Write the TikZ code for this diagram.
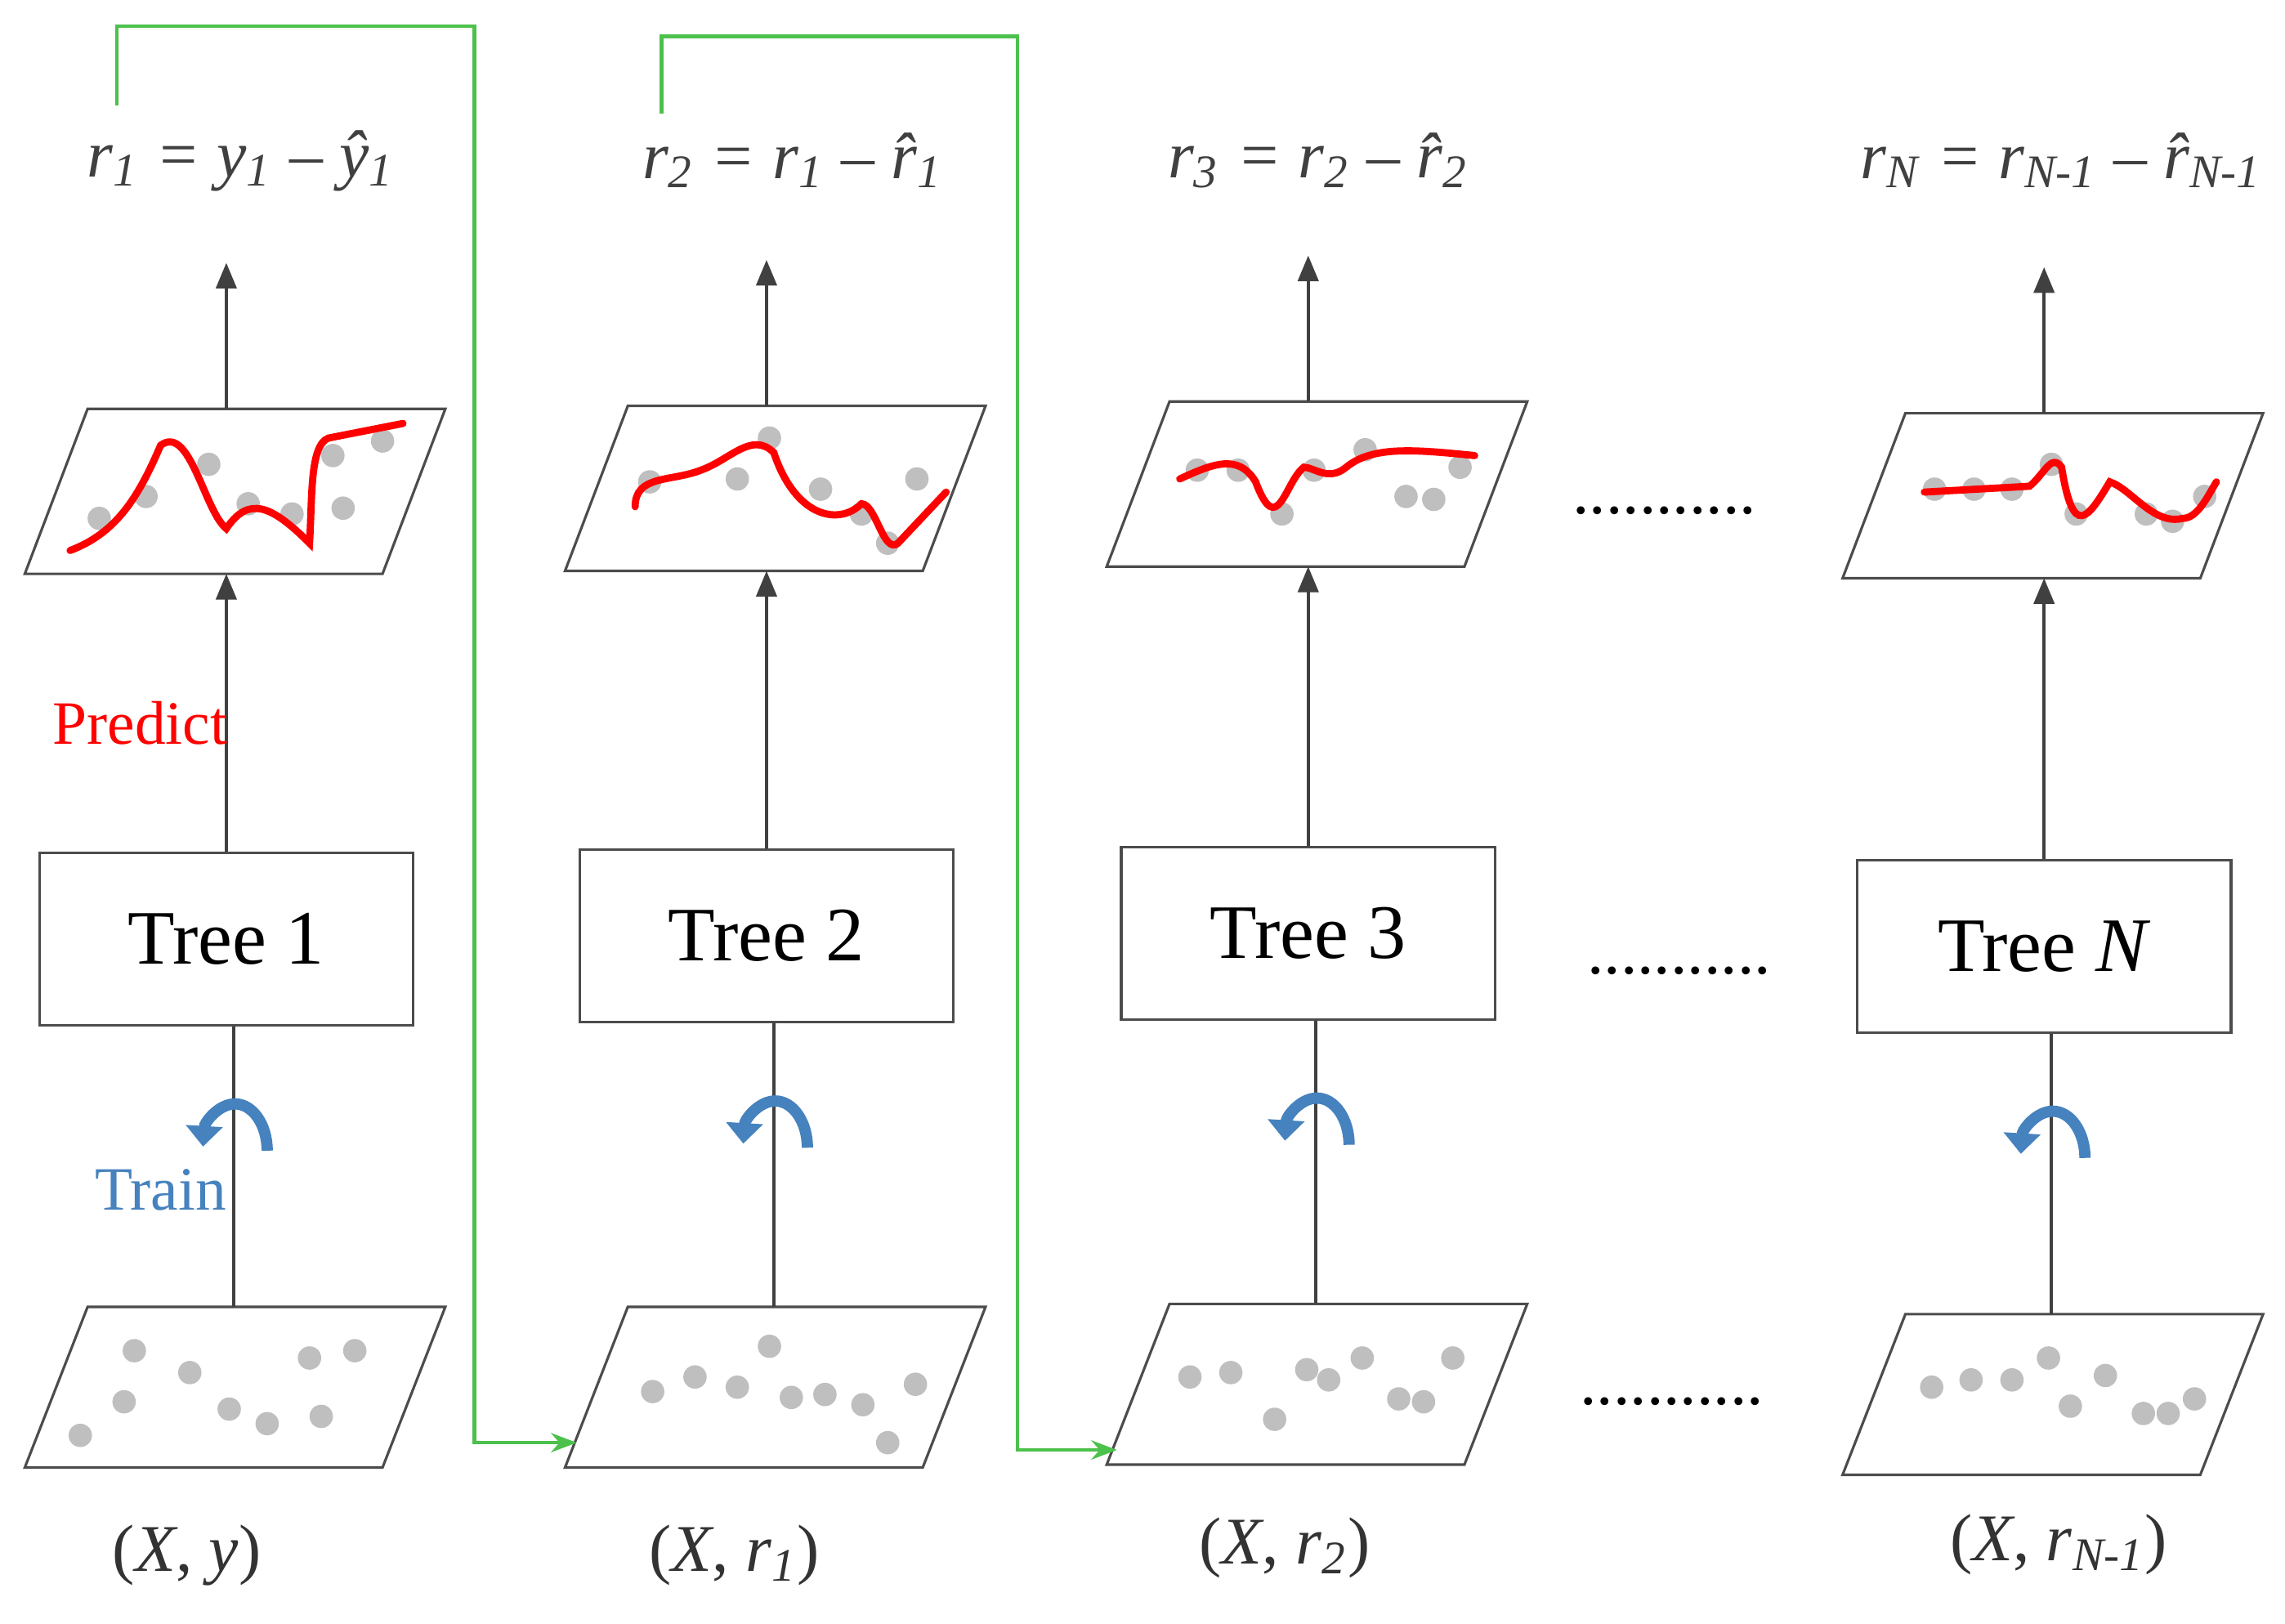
\documentclass[tikz,border=0pt]{standalone}
\usepackage{fontspec}
\setmainfont{Liberation Serif}
\usetikzlibrary{arrows.meta}
\definecolor{steel}{RGB}{70,130,190}
\begin{document}
\begin{tikzpicture}[x=0.01cm,y=-0.01cm,
  para/.style={draw=black!70,line width=0.5pt},
  treebox/.style={draw=black!70,line width=0.5pt,minimum width=2.56cm,minimum height=1.18cm,font=\fontsize{15}{17}\selectfont},
  flow/.style={draw=black!75,line width=0.6pt},
  up/.style={flow,-{Triangle[length=5pt,width=4pt]}},
  dot/.style={fill=black!25,draw=none},
  fit/.style={red,line width=1.4pt,line cap=round},
  res/.style={font=\fontsize{13}{15}\selectfont\itshape,black!75},
  data/.style={font=\fontsize{13}{15}\selectfont,black!80},
  grn/.style={draw=green!65!black!70,line width=0.7pt},
  rot/.style={draw=steel,line width=2.2pt,-{Triangle[length=4pt,width=7pt]}},
  dots/.style={font=\fontsize{13}{13}\selectfont}]
\useasboundingbox (0,0) rectangle (1565,1112);
\foreach \c/\cx/\ty/\py/\by in {1/155/643/337/950, 2/525/641/335/950, 3/896/639/332/948, 4/1400/648/340/955}{
  \draw[para] (\cx-95,\py-57) -- (\cx+150,\py-57) -- (\cx+107,\py+56) -- (\cx-138,\py+56) -- cycle;
  \draw[para] (\cx-95,\by-55) -- (\cx+150,\by-55) -- (\cx+107,\by+55) -- (\cx-138,\by+55) -- cycle;
  \node[treebox] (t\c) at (\cx,\ty) {Tree \ifnum\c=4 \textit{N}\else\c\fi};
  \coordinate (pb\c) at (\cx,\py+56);
  \coordinate (pt\c) at (\cx,\py-57);
  \coordinate (top\c) at (\cx,\py-157);
  \coordinate (bt\c) at (\cx+5,\by-55);
  \draw[up] (t\c.north -| pb\c) -- (pb\c);
  \draw[up] (pt\c) -- (top\c);
  \draw[flow] (bt\c) -- (bt\c |- t\c.south);
  \draw[rot] (\cx+28,\ty+145) arc[start angle=0,end angle=-175,x radius=22,y radius=32];
}
\foreach \x/\y in {55/983,85/960,92/925,130/940,157/965,183/975,212/930,220/970,243/925}{\fill[dot] (\x,\y) circle (8);}
\foreach \x/\y in {447/953,476/943,505/950,527/922,542/957,565/955,591/962,608/988,627/948}{\fill[dot] (\x,\y) circle (8);}
\foreach \x/\y in {815/943,843/940,873/972,895/938,910/945,933/930,958/958,975/960,995/930}{\fill[dot] (\x,\y) circle (8);}
\foreach \x/\y in {1323/950,1350/945,1378/945,1403/930,1418/963,1442/942,1468/968,1485/968,1503/958}{\fill[dot] (\x,\y) circle (8);}
\foreach \x/\y in {68/355,100/340,143/318,170/345,200/352,235/348,228/312,262/302}{\fill[dot] (\x,\y) circle (8);}
\foreach \x/\y in {445/330,505/328,527/300,562/335,590/352,628/328,608/372}{\fill[dot] (\x,\y) circle (8);}
\foreach \x/\y in {820/322,848/322,878/352,900/322,935/308,963/340,982/342,1000/320}{\fill[dot] (\x,\y) circle (8);}
\foreach \x/\y in {1325/335,1352/335,1378/335,1405/318,1422/352,1470/352,1488/357,1510/340}{\fill[dot] (\x,\y) circle (8);}
\draw[fit] (48,377) .. controls (80,365) and (95,340) .. (110,305) .. controls (130,290) and (140,350) .. (155,362) .. controls (170,340) and (185,345) .. (212,372) .. controls (214,340) and (212,305) .. (225,300) -- (276,290);
\draw[fit] (435,347) .. controls (435,325) and (460,330) .. (480,322) .. controls (500,315) and (515,295) .. (530,310) .. controls (545,355) and (575,360) .. (590,345) .. controls (600,345) and (605,380) .. (615,372) -- (648,337);
\draw[fit] (808,328) .. controls (830,318) and (848,310) .. (860,330) .. controls (875,370) and (880,330) .. (893,320) .. controls (900,320) and (910,330) .. (922,320) .. controls (940,305) and (970,308) .. (1010,312);
\draw[fit] (1318,337) -- (1390,333) .. controls (1400,325) and (1405,310) .. (1412,320) .. controls (1420,370) and (1430,355) .. (1445,330) .. controls (1460,335) and (1475,360) .. (1495,355) .. controls (1505,355) and (1512,340) .. (1518,330);
\node[res] (f1) at (165,110) {r\textsubscript{1} = y\textsubscript{1} -- \^{y}\textsubscript{1}};
\node[res] (f2) at (543,110) {r\textsubscript{2} = r\textsubscript{1} -- \^{r}\textsubscript{1}};
\node[res] (f3) at (903,110) {r\textsubscript{3} = r\textsubscript{2} -- \^{r}\textsubscript{2}};
\node[res] (f4) at (1412,110) {r\textsubscript{N} = r\textsubscript{N-1} -- \^{r}\textsubscript{N-1}};
\node[data] (d1) at (128,1065) {(\textit{X}, \textit{y})};
\node[data] (d2) at (503,1065) {(\textit{X}, \textit{r}\textsubscript{\itshape 1})};
\node[data] (d3) at (880,1060) {(\textit{X}, \textit{r}\textsubscript{\itshape 2})};
\node[data] (d4) at (1410,1058) {(\textit{X}, \textit{r}\textsubscript{\itshape N-1})};
\node[red,font=\fontsize{12}{14}\selectfont] (pr) at (96,495) {Predict};
\node[steel,font=\fontsize{12}{14}\selectfont] (tr) at (110,815) {Train};
\node[dots] (e1) at (1140,350) {...........};
\node[dots] (e2) at (1150,665) {...........};
\node[dots] (e3) at (1145,960) {...........};
\coordinate (g1a) at (80,72); \coordinate (g1b) at (395,988);
\coordinate (g2a) at (453,78); \coordinate (g2b) at (765,993);
\draw[grn,-{Stealth[length=5pt]}] (g1a) -- (80,18) -- (325,18) -- (325,988) -- (g1b);
\draw[grn,-{Stealth[length=5pt]}] (g2a) -- (453,25) -- (697,25) -- (697,993) -- (g2b);
\end{tikzpicture}
\end{document}
